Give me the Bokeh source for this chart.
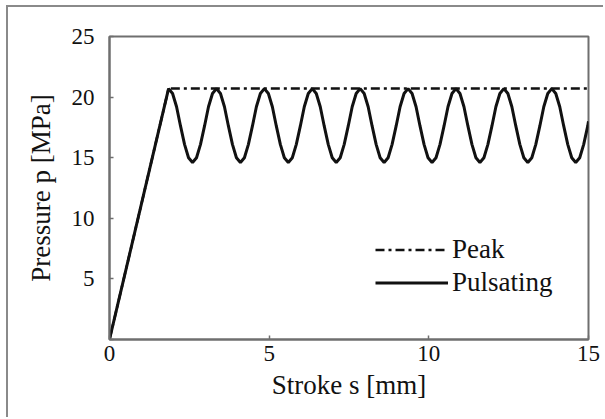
from bokeh.plotting import figure
from bokeh.models import Range1d, FixedTicker, Legend, LegendItem
from bokeh.embed import file_html
from bokeh.resources import INLINE

# ---- data ----
peak_stroke = [0.0, 1.85, 15.0]
peak_pressure = [0.0, 20.7, 20.7]

puls_stroke = [
    0.0,
    1.85, 1.975, 2.1, 2.225, 2.35, 2.475, 2.6, 2.725, 2.85, 2.975, 3.1, 3.225,
    3.35, 3.475, 3.6, 3.725, 3.85, 3.975, 4.1, 4.225, 4.35, 4.475, 4.6, 4.725,
    4.85, 4.975, 5.1, 5.225, 5.35, 5.475, 5.6, 5.725, 5.85, 5.975, 6.1, 6.225,
    6.35, 6.475, 6.6, 6.725, 6.85, 6.975, 7.1, 7.225, 7.35, 7.475, 7.6, 7.725,
    7.85, 7.975, 8.1, 8.225, 8.35, 8.475, 8.6, 8.725, 8.85, 8.975, 9.1, 9.225,
    9.35, 9.475, 9.6, 9.725, 9.85, 9.975, 10.1, 10.225, 10.35, 10.475, 10.6, 10.725,
    10.85, 10.975, 11.1, 11.225, 11.35, 11.475, 11.6, 11.725, 11.85, 11.975, 12.1, 12.225,
    12.35, 12.475, 12.6, 12.725, 12.85, 12.975, 13.1, 13.225, 13.35, 13.475, 13.6, 13.725,
    13.85, 13.975, 14.1, 14.225, 14.35, 14.475, 14.6, 14.725, 14.85, 14.975,
    15.0,
]
puls_pressure = [
    0.0,
    20.7, 20.3, 19.2, 17.6, 16.1, 15.0, 14.6, 15.0, 16.1, 17.6, 19.2, 20.3,
    20.7, 20.3, 19.2, 17.6, 16.1, 15.0, 14.6, 15.0, 16.1, 17.6, 19.2, 20.3,
    20.7, 20.3, 19.2, 17.6, 16.1, 15.0, 14.6, 15.0, 16.1, 17.6, 19.2, 20.3,
    20.7, 20.3, 19.2, 17.6, 16.1, 15.0, 14.6, 15.0, 16.1, 17.6, 19.2, 20.3,
    20.7, 20.3, 19.2, 17.6, 16.1, 15.0, 14.6, 15.0, 16.1, 17.6, 19.2, 20.3,
    20.7, 20.3, 19.2, 17.6, 16.1, 15.0, 14.6, 15.0, 16.1, 17.6, 19.2, 20.3,
    20.7, 20.3, 19.2, 17.6, 16.1, 15.0, 14.6, 15.0, 16.1, 17.6, 19.2, 20.3,
    20.7, 20.3, 19.2, 17.6, 16.1, 15.0, 14.6, 15.0, 16.1, 17.6, 19.2, 20.3,
    20.7, 20.3, 19.2, 17.6, 16.1, 15.0, 14.6, 15.0, 16.1, 17.6,
    18.0,
]

x_ticks = [0, 5, 10, 15]
y_ticks = [0, 5, 10, 15, 20, 25]

FONT = "'Liberation Serif', 'Times New Roman', serif"
TXT = "#111111"
FRAME = "#6f6f6f"

p = figure(
    width=597, height=412,
    output_backend="svg", toolbar_location=None,
    x_range=Range1d(0, 15), y_range=Range1d(0, 25),
    min_border_left=101, min_border_right=17,
    min_border_top=29, min_border_bottom=80,
)
p.styles = {
    "margin-left": "6px", "margin-top": "5px",
    "border-top": "2px solid #8a8a8a", "border-left": "2px solid #8a8a8a",
}
p.grid.visible = False
p.outline_line_color = FRAME
p.outline_line_width = 2
p.background_fill_color = "white"
p.border_fill_color = "white"

for ax, ticks in ((p.xaxis[0], x_ticks), (p.yaxis[0], y_ticks)):
    ax.ticker = FixedTicker(ticks=ticks)
    ax.minor_tick_line_color = None
    ax.major_tick_in = 4
    ax.major_tick_out = 0
    ax.major_tick_line_color = FRAME
    ax.major_tick_line_width = 1.5
    ax.axis_line_color = FRAME
    ax.axis_line_width = 2
    ax.major_label_text_font = FONT
    ax.major_label_text_font_size = "23px"
    ax.major_label_text_color = TXT
    ax.axis_label_text_font = FONT
    ax.axis_label_text_font_size = "27px"
    ax.axis_label_text_font_style = "normal"
    ax.axis_label_text_color = TXT

p.xaxis.axis_label = "Stroke s [mm]"
p.yaxis.axis_label = "Pressure p [MPa]"
p.yaxis.major_label_overrides = {0: ""}
p.xaxis.major_label_standoff = 6
p.yaxis.major_label_standoff = 15
p.xaxis.axis_label_standoff = 6
p.yaxis.axis_label_standoff = 13

r_peak = p.line(peak_stroke, peak_pressure, line_color="#111111",
                line_width=2.5, line_dash="9 4 3 4")
r_puls = p.line(puls_stroke, puls_pressure, line_color="#111111", line_width=3)

legend = Legend(
    items=[LegendItem(label="Peak", renderers=[r_peak]),
           LegendItem(label="Pulsating", renderers=[r_puls])],
    location=(266, 40),
    glyph_width=73, glyph_height=33, label_height=33,
    label_standoff=4, spacing=0, padding=0, margin=0,
    border_line_color=None, background_fill_alpha=0,
    label_text_font=FONT, label_text_font_size="27px", label_text_color=TXT,
)
p.add_layout(legend)

open("out.html", "w").write(file_html(p, INLINE))
